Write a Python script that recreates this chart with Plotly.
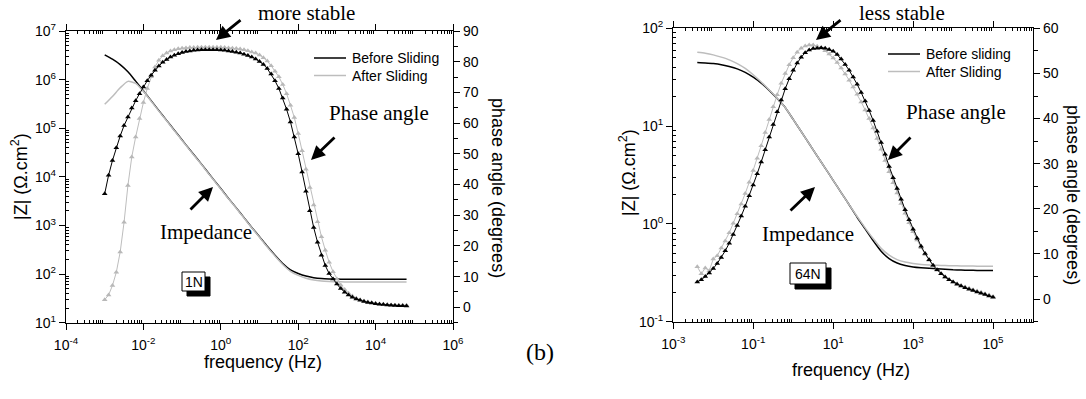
import plotly.graph_objects as go

# ---------------- data ----------------
# measured frequencies (Hz), 10 points per decade, 1e-3 .. 1e5
FREQ = [
    1.000e-3, 1.259e-3, 1.585e-3, 1.995e-3, 2.512e-3, 3.162e-3, 3.981e-3, 5.012e-3, 6.310e-3, 7.943e-3,
    1.000e-2, 1.259e-2, 1.585e-2, 1.995e-2, 2.512e-2, 3.162e-2, 3.981e-2, 5.012e-2, 6.310e-2, 7.943e-2,
    1.000e-1, 1.259e-1, 1.585e-1, 1.995e-1, 2.512e-1, 3.162e-1, 3.981e-1, 5.012e-1, 6.310e-1, 7.943e-1,
    1.000e0, 1.259e0, 1.585e0, 1.995e0, 2.512e0, 3.162e0, 3.981e0, 5.012e0, 6.310e0, 7.943e0,
    1.000e1, 1.259e1, 1.585e1, 1.995e1, 2.512e1, 3.162e1, 3.981e1, 5.012e1, 6.310e1, 7.943e1,
    1.000e2, 1.259e2, 1.585e2, 1.995e2, 2.512e2, 3.162e2, 3.981e2, 5.012e2, 6.310e2, 7.943e2,
    1.000e3, 1.259e3, 1.585e3, 1.995e3, 2.512e3, 3.162e3, 3.981e3, 5.012e3, 6.310e3, 7.943e3,
    1.000e4, 1.259e4, 1.585e4, 1.995e4, 2.512e4, 3.162e4, 3.981e4, 5.012e4, 6.310e4, 7.943e4,
    1.000e5,
]

FREQ_1N_PHASE = FREQ[0:79]      # 1e-3 .. 6.3e4
FREQ_1N_Z = FREQ[0:79:2]
FREQ_64N_PHASE = FREQ[6:81]     # 4e-3 .. 1e5
FREQ_64N_Z = FREQ[6:81:2]

# ---- 1N panel ----
Z_1N_BEFORE = [3.24e6, 2.63e6, 2.04e6, 1.45e6, 9.3e5, 5.9e5, 3.7e5, 2.3e5, 1.45e5, 9.1e4,
               5.75e4, 3.6e4, 2.3e4, 1.45e4, 9.1e3, 5.75e3, 3.6e3, 2.3e3, 1.45e3, 912,
               585, 372, 244, 165, 122, 103, 91, 84.5, 81, 79.5,
               78.8, 78.4, 78.2, 78.1, 78.0, 78.0, 78.0, 78.0, 78.0, 78.0]
Z_1N_AFTER = [3.1e5, 4.5e5, 6.8e5, 9.2e5, 8.4e5, 5.75e5, 3.6e5, 2.25e5, 1.42e5, 8.9e4,
              5.6e4, 3.55e4, 2.25e4, 1.42e4, 8.9e3, 5.6e3, 3.55e3, 2.25e3, 1.42e3, 895,
              570, 362, 236, 158, 114, 94, 82, 75.5, 72, 70.3,
              69.5, 69.0, 68.8, 68.6, 68.5, 68.5, 68.5, 68.5, 68.5, 68.5]
PH_1N_BEFORE = [37.0, 43.0, 47.8, 52.0, 55.8, 59.2, 62.0, 64.9, 67.3, 69.6,
                71.8, 73.8, 75.6, 77.2, 78.6, 79.8, 80.7, 81.5, 82.1, 82.6,
                83.0, 83.3, 83.5, 83.7, 83.8, 83.9, 83.9, 83.9, 83.9, 83.9,
                83.8, 83.7, 83.5, 83.3, 83.1, 82.8, 82.4, 82.0, 81.5, 80.9,
                80.1, 79.1, 77.8, 76.0, 73.8, 71.3, 68.2, 64.5, 60.4, 55.5,
                50.0, 44.1, 37.8, 31.5, 26.0, 21.2, 17.0, 13.6, 11.0, 9.2,
                7.6, 6.1, 4.9, 4.0, 3.3, 2.7, 2.3, 1.9, 1.6, 1.4,
                1.2, 1.0, 0.9, 0.8, 0.7, 0.6, 0.5, 0.5, 0.4]
PH_1N_AFTER = [2.5, 4.0, 7.1, 11.4, 18.0, 27.7, 39.7, 49.0, 55.5, 61.5,
               66.7, 71.3, 75.1, 78.3, 80.5, 81.9, 82.8, 83.5, 83.9, 84.2,
               84.4, 84.5, 84.6, 84.6, 84.7, 84.7, 84.7, 84.7, 84.7, 84.7,
               84.7, 84.6, 84.5, 84.4, 84.3, 84.1, 83.9, 83.6, 83.2, 82.8,
               82.2, 81.3, 80.2, 78.7, 76.9, 75.1, 72.6, 69.6, 65.8, 61.8,
               56.6, 51.0, 45.0, 39.0, 33.3, 27.9, 23.0, 18.6, 14.7, 11.6,
               9.2, 7.3, 5.8, 4.6, 3.7, 3.0, 2.5, 2.1, 1.8, 1.5,
               1.3, 1.1, 1.0, 0.9, 0.8, 0.7, 0.7, 0.7, 0.7]

# ---- 64N panel ----
Z_64N_BEFORE = [44.6, 44.2, 43.6, 42.5, 40.7, 38.5, 35.5, 31.6, 27.5, 23.2,
                19.1, 15.5, 11.7, 8.8, 6.6, 4.95, 3.72, 2.79, 2.09, 1.57,
                1.17, 0.89, 0.676, 0.525, 0.442, 0.398, 0.376, 0.363, 0.356, 0.351,
                0.347, 0.343, 0.339, 0.337, 0.336, 0.334, 0.333, 0.333]
Z_64N_AFTER = [56.9, 55.6, 53.5, 50.7, 47.6, 43.6, 38.9, 33.5, 28.2, 23.4,
               19.3, 15.5, 11.7, 8.8, 6.6, 4.95, 3.72, 2.79, 2.09, 1.57,
               1.19, 0.912, 0.708, 0.562, 0.479, 0.431, 0.407, 0.394, 0.385, 0.380,
               0.377, 0.375, 0.373, 0.372, 0.371, 0.370, 0.369, 0.368]
PH_64N_BEFORE = [3.8, 4.3, 5.0, 5.8, 6.8, 7.9, 9.2, 10.7, 12.4, 14.3,
                 16.3, 18.4, 20.6, 22.9, 25.3, 27.8, 30.4, 33.1, 35.9, 38.7,
                 41.5, 44.1, 46.6, 48.8, 50.7, 52.3, 53.6, 54.6, 55.2, 55.5,
                 55.6, 55.7, 55.6, 55.3, 54.9, 54.2, 53.2, 52.0, 50.7, 49.2,
                 47.6, 45.8, 43.9, 41.8, 39.6, 37.2, 34.7, 32.1, 29.4, 26.9,
                 24.5, 22.1, 19.8, 17.6, 15.5, 13.5, 11.7, 10.1, 8.7, 7.5,
                 6.5, 5.6, 4.9, 4.3, 3.8, 3.3, 2.9, 2.5, 2.2, 1.9,
                 1.6, 1.3, 1.0, 0.7, 0.4]
PH_64N_AFTER = [7.2, 5.6, 6.9, 6.3, 8.9, 9.6, 11.3, 12.9, 14.7, 16.8,
                18.9, 21.1, 23.4, 25.9, 28.5, 31.2, 34.0, 36.9, 39.8, 42.6,
                45.3, 47.8, 50.0, 51.9, 53.5, 54.7, 55.6, 56.1, 56.3, 56.3,
                56.0, 55.6, 55.0, 54.3, 53.4, 52.4, 51.2, 49.9, 48.5, 47.0,
                45.4, 43.7, 41.9, 40.0, 37.9, 35.6, 33.2, 30.7, 28.2, 25.8,
                23.5, 21.2, 19.0, 16.9, 14.9, 13.1, 11.4, 9.9, 8.6, 7.4,
                6.4, 5.6, 4.9, 4.3, 3.8, 3.4, 3.0, 2.7, 2.4, 2.1,
                1.8, 1.5, 1.2, 0.9, 0.6]

LEGEND_1N = ["Before Sliding", "After Sliding"]
LEGEND_64N = ["Before sliding", "After Sliding"]

# tick labels
X1_LAB_EXP = [-4, -2, 0, 2, 4, 6]
X1_LAB_TEXT = ["10<sup>-4</sup>", "10<sup>-2</sup>", "10<sup>0</sup>", "10<sup>2</sup>",
               "10<sup>4</sup>", "10<sup>6</sup>"]
X1_PLAIN_EXP = [-3, -1, 1, 3, 5]
Y1_EXP = [1, 2, 3, 4, 5, 6, 7]
Y1_TEXT = ["10<sup>1</sup>", "10<sup>2</sup>", "10<sup>3</sup>", "10<sup>4</sup>",
           "10<sup>5</sup>", "10<sup>6</sup>", "10<sup>7</sup>"]
X2_LAB_EXP = [-3, -1, 1, 3, 5]
X2_LAB_TEXT = ["10<sup>-3</sup>", "10<sup>-1</sup>", "10<sup>1</sup>", "10<sup>3</sup>",
               "10<sup>5</sup>"]
X2_PLAIN_EXP = [-2, 0, 2, 4, 6]
Y2_EXP = [-1, 0, 1, 2]
Y2_TEXT = ["10<sup>-1</sup>", "10<sup>0</sup>", "10<sup>1</sup>", "10<sup>2</sup>"]
PH1_TICKS = [0, 10, 20, 30, 40, 50, 60, 70, 80, 90]
PH2_TICKS = [0, 10, 20, 30, 40, 50, 60]

# ---------------- styling / layout ----------------
W, H = 1086, 399
SANS = "Liberation Sans, Arial, sans-serif"
SERIF = "Liberation Serif, Times New Roman, serif"
BLACK = "#000000"
GRAY = "#bdbdbd"
GRAYM = "#b8b8b8"


def px(x):
    return x / W


def py(y):
    return 1 - y / H


def minor_vals(e0, e1):
    return [m * 10.0 ** e for e in range(e0, e1) for m in range(2, 10)]


fig = go.Figure()

# impedance lines
for xs, ys, col, yax, xax in [
    (FREQ_1N_Z, Z_1N_BEFORE, BLACK, "y", "x"),
    (FREQ_1N_Z, Z_1N_AFTER, GRAY, "y", "x"),
    (FREQ_64N_Z, Z_64N_BEFORE, BLACK, "y3", "x2"),
    (FREQ_64N_Z, Z_64N_AFTER, GRAY, "y3", "x2"),
]:
    fig.add_trace(go.Scatter(x=xs, y=ys, xaxis=xax, yaxis=yax, mode="lines",
                             line=dict(color=col, width=1.5, shape="spline", smoothing=0.6),
                             showlegend=False, hoverinfo="skip"))

# phase curves (gray first so black on top)
for xs, ys, col, mcol, yax, xax in [
    (FREQ_1N_PHASE, PH_1N_AFTER, GRAY, GRAYM, "y2", "x"),
    (FREQ_1N_PHASE, PH_1N_BEFORE, BLACK, BLACK, "y2", "x"),
    (FREQ_64N_PHASE, PH_64N_AFTER, GRAY, GRAYM, "y4", "x2"),
    (FREQ_64N_PHASE, PH_64N_BEFORE, BLACK, BLACK, "y4", "x2"),
]:
    fig.add_trace(go.Scatter(x=xs, y=ys, xaxis=xax, yaxis=yax, mode="lines+markers",
                             line=dict(color=col, width=1),
                             marker=dict(symbol="triangle-up", size=5, color=mcol),
                             showlegend=False, hoverinfo="skip"))

# panel geometry (pixels)
L1, R1, T1, B1 = 66, 453, 31, 322.7
L2, R2, T2, B2 = 673.3, 1033, 28.3, 321.7

tickfont = dict(family=SANS, size=14, color=BLACK)


def xaxis_cfg(dom, rng, exps, texts, anchor):
    return dict(type="log", domain=dom, range=rng, automargin=False,
                tickmode="array", tickvals=[10.0 ** e for e in exps], ticktext=texts,
                ticks="outside", ticklen=6, tickwidth=1, tickcolor=BLACK,
                showline=True, linecolor=BLACK, linewidth=1.2, mirror="ticks",
                showgrid=False, zeroline=False, tickfont=tickfont, anchor=anchor,
                ticklabelstandoff=3,
                minor=dict(tickvals=minor_vals(rng[0], rng[1]), ticks="inside",
                           ticklen=3, tickcolor=BLACK, showgrid=False))


def xaxis_plain(dom, rng, exps, anchor, overlay):
    # extra decade ticks without labels
    return dict(type="log", domain=dom, range=rng, automargin=False, overlaying=overlay,
                tickmode="array", tickvals=[10.0 ** e for e in exps],
                showticklabels=False, ticks="outside", ticklen=6, tickwidth=1,
                tickcolor=BLACK, showline=False, mirror="ticks", showgrid=False,
                zeroline=False, anchor=anchor)


def zaxis_cfg(dom, rng, exps, texts, anchor):
    return dict(type="log", domain=dom, range=rng, automargin=False,
                tickmode="array", tickvals=[10.0 ** e for e in exps], ticktext=texts,
                ticks="outside", ticklen=6, tickwidth=1, tickcolor=BLACK,
                showline=True, linecolor=BLACK, linewidth=1.2, mirror=False,
                showgrid=False, zeroline=False, tickfont=tickfont, anchor=anchor,
                minor=dict(tickvals=minor_vals(rng[0], rng[1]), ticks="inside",
                           ticklen=3, tickcolor=BLACK, showgrid=False))


def phase_cfg(top, ticks, anchor, overlay):
    return dict(range=[-5, top], tickmode="array", tickvals=ticks, automargin=False,
                ticktext=[str(t) for t in ticks], side="right", overlaying=overlay,
                anchor=anchor, ticks="outside", ticklen=6, tickcolor=BLACK,
                showline=True, linecolor=BLACK, linewidth=1.2, showgrid=False,
                zeroline=False, tickfont=tickfont,
                minor=dict(dtick=5, tick0=0, ticks="outside", ticklen=4,
                           tickcolor=BLACK, showgrid=False))


fig.update_layout(
    template="none",
    width=W, height=H, margin=dict(l=0, r=0, t=0, b=0, autoexpand=False),
    paper_bgcolor="white", plot_bgcolor="white", showlegend=False,
    xaxis=xaxis_cfg([px(L1), px(R1)], [-4, 6], X1_LAB_EXP, X1_LAB_TEXT, "y"),
    xaxis3=xaxis_plain([px(L1), px(R1)], [-4, 6], X1_PLAIN_EXP, "y", "x"),
    yaxis=zaxis_cfg([py(B1), py(T1)], [1, 7], Y1_EXP, Y1_TEXT, "x"),
    yaxis2=phase_cfg(90, PH1_TICKS, "x", "y"),
    xaxis2=xaxis_cfg([px(L2), px(R2)], [-3, 6], X2_LAB_EXP, X2_LAB_TEXT, "y3"),
    xaxis4=xaxis_plain([px(L2), px(R2)], [-3, 6], X2_PLAIN_EXP, "y3", "x2"),
    yaxis3=zaxis_cfg([py(B2), py(T2)], [-1, 2], Y2_EXP, Y2_TEXT, "x2"),
    yaxis4=phase_cfg(60, PH2_TICKS, "x2", "y3"),
)

ann = []


def text(x, y, s, size, family=SANS, angle=0):
    ann.append(dict(x=px(x), y=py(y), xref="paper", yref="paper", text=s, showarrow=False,
                    font=dict(family=family, size=size, color=BLACK), textangle=angle,
                    xanchor="center", yanchor="middle"))


def arrow(tipx, tipy, tailx, taily):
    ann.append(dict(x=px(tipx), y=py(tipy), xref="paper", yref="paper", text="",
                    showarrow=True, arrowhead=2, arrowsize=1, arrowwidth=2.8,
                    arrowcolor=BLACK, ax=tailx - tipx, ay=taily - tipy, standoff=0))


# axis titles
text(20, 177, "|Z| (\u03a9.cm<sup>2</sup>)", 18, angle=-90)
text(498, 188, "phase angle (degrees)", 18, angle=90)
text(263, 362, "frequency (Hz)", 18)
text(628, 173, "|Z| (\u03a9.cm<sup>2</sup>)", 18, angle=-90)
text(1073, 195, "phase angle (degrees)", 18, angle=90)
text(851, 370, "frequency (Hz)", 18)

# annotations left
text(306, 13, "more stable", 21, SERIF)
arrow(216, 40, 242, 19)
text(379, 113, "Phase angle", 21, SERIF)
arrow(311, 160, 336, 136)
text(206, 232, "Impedance", 21, SERIF)
arrow(213, 187, 189, 211)
text(193.5, 281.5, "1N", 14)

# annotations right
text(902, 13, "less stable", 21, SERIF)
arrow(816, 40, 842, 19)
text(956, 112, "Phase angle", 21, SERIF)
arrow(888, 160, 912, 136)
text(808, 234, "Impedance", 21, SERIF)
arrow(815, 187, 789, 212)
text(808, 273.5, "64N", 14)

text(540, 352, "(b)", 24, SERIF)

# manual legends
shapes = []
for (lx, ly, names) in [(314, 58, LEGEND_1N), (888, 54, LEGEND_64N)]:
    for i, (nm, col) in enumerate(zip(names, [BLACK, GRAY])):
        yy = ly + i * 17.5
        shapes.append(dict(type="line", xref="paper", yref="paper",
                           x0=px(lx), x1=px(lx + 32), y0=py(yy), y1=py(yy),
                           line=dict(color=col, width=1.5)))
        ann.append(dict(x=px(lx + 36), y=py(yy), xref="paper", yref="paper", text=nm,
                        showarrow=False, xanchor="left", yanchor="middle",
                        font=dict(family=SANS, size=14, color=BLACK)))

# label boxes with drop shadow
for (x0, y0, x1, y1) in [(182, 272, 205, 291), (790, 263, 826, 284)]:
    shapes.append(dict(type="rect", xref="paper", yref="paper",
                       x0=px(x0 + 5), x1=px(x1 + 5), y0=py(y1 + 5), y1=py(y0 + 5),
                       fillcolor=BLACK, line=dict(color=BLACK, width=1)))
    shapes.append(dict(type="rect", xref="paper", yref="paper",
                       x0=px(x0), x1=px(x1), y0=py(y1), y1=py(y0),
                       fillcolor="white", line=dict(color=BLACK, width=1)))

fig.update_layout(annotations=ann, shapes=shapes)
fig.write_html("out.html",
               config={"displayModeBar": False, "staticPlot": True},
               post_script="document.body.style.margin='0';document.body.style.padding='0';"
                           "document.body.style.overflow='hidden';")
